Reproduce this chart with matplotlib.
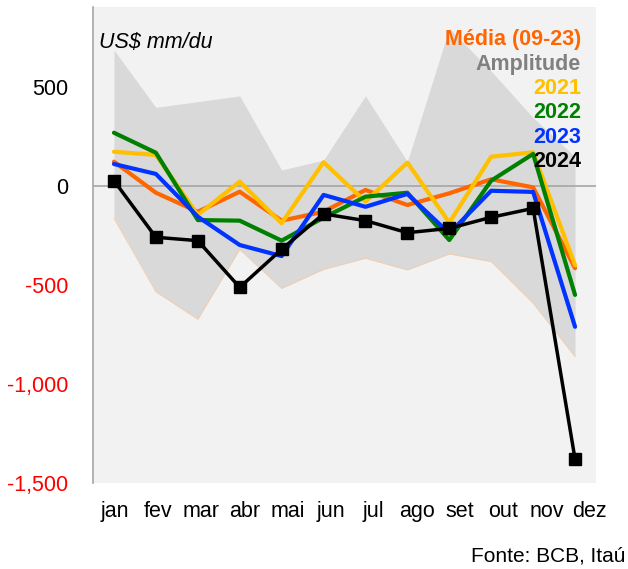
import matplotlib
matplotlib.use("Agg")
import matplotlib.pyplot as plt
import numpy as np

plt.rcParams['font.family'] = ['Liberation Sans', 'DejaVu Sans']

months = ["jan", "fev", "mar", "abr", "mai", "jun", "jul", "ago", "set", "out", "nov", "dez"]
amp_upper = [687, 397, 426, 455, 81, 131, 455, 123, 796, 580, 345, 148]
amp_lower = [-163, -534, -673, -320, -517, -421, -365, -424, -343, -382, -592, -862]
media = [123, -34, -130, -29, -175, -130, -20, -96, -37, 34, -7, -415]
y2021 = [173, 157, -146, 22, -188, 120, -79, 118, -185, 148, 170, -400]
y2022 = [269, 168, -172, -175, -276, -160, -54, -34, -273, 27, 162, -550]
y2023 = [111, 61, -155, -298, -354, -45, -105, -40, -239, -24, -30, -711]
y2024 = [27, -259, -276, -512, -320, -141, -175, -236, -214, -158, -113, -1379]

yticks = [500, 0, -500, -1000, -1500]
ytick_labels = ["500", "0", "-500", "-1,000", "-1,500"]
ytick_colors = ["black", "black", "red", "red", "red"]

fig = plt.figure(figsize=(6.28, 5.69), dpi=100)
ax = fig.add_axes([93/628, 1-483/569, (596-93)/628, (483-7)/569])
ax.set_facecolor("#F2F2F2")
x = np.arange(len(months))

ax.fill_between(x, amp_lower, amp_upper, color="#D9D9D9", lw=0, zorder=1)
ax.plot(x, amp_lower, color="#F6CBA8", lw=0.6, zorder=1.5)
ax.axhline(0, color="#A6A6A6", lw=1.2, zorder=2)

ax.plot(x, media, color="#FF6600", lw=3, zorder=3, solid_capstyle="round")
ax.plot(x, y2021, color="#FFC000", lw=3, zorder=4, solid_capstyle="round")
ax.plot(x, y2022, color="#008000", lw=3, zorder=5, solid_capstyle="round")
ax.plot(x, y2023, color="#0033FF", lw=3, zorder=6, solid_capstyle="round")
ax.plot(x, y2024, color="black", lw=2.5, marker="s", ms=8, zorder=7)

ax.set_xlim(-0.5, 11.5)
ax.set_ylim(-1500, 904)
# category labels are spread slightly wider than the data points
label_pos = x * 1.03 + 0.02
ax.set_xticks(label_pos)
ax.set_xticklabels(months, fontsize=15.5)
ax.set_yticks(yticks)
ax.set_yticklabels(ytick_labels, fontsize=15.5)
for lbl, c in zip(ax.get_yticklabels(), ytick_colors):
    lbl.set_color(c)
ax.tick_params(axis="both", length=0)
ax.tick_params(axis="y", pad=18)
ax.tick_params(axis="x", pad=13)
for s in ["top", "right", "bottom"]:
    ax.spines[s].set_visible(False)
ax.spines["left"].set_color("#A6A6A6")
ax.spines["left"].set_linewidth(1.2)

ax.text(99/628, 1-42/569, "US$ mm/du", transform=fig.transFigure, fontsize=15.5,
        style="italic", ha="left", va="center")

legend_items = [("Média (09-23)", "#FF6600"), ("Amplitude", "#808080"), ("2021", "#FFC000"),
                ("2022", "#008000"), ("2023", "#0033FF"), ("2024", "black")]
for i, (t, c) in enumerate(legend_items):
    ax.text(581/628, 1-(40+24.3*i)/569, t, transform=fig.transFigure, fontsize=15.5,
            fontweight="bold", color=c, ha="right", va="center", zorder=10)

fig.text(625/628, 1-556/569, "Fonte: BCB, Itaú", fontsize=15, ha="right", va="center")

fig.savefig("out.png", dpi=100)
